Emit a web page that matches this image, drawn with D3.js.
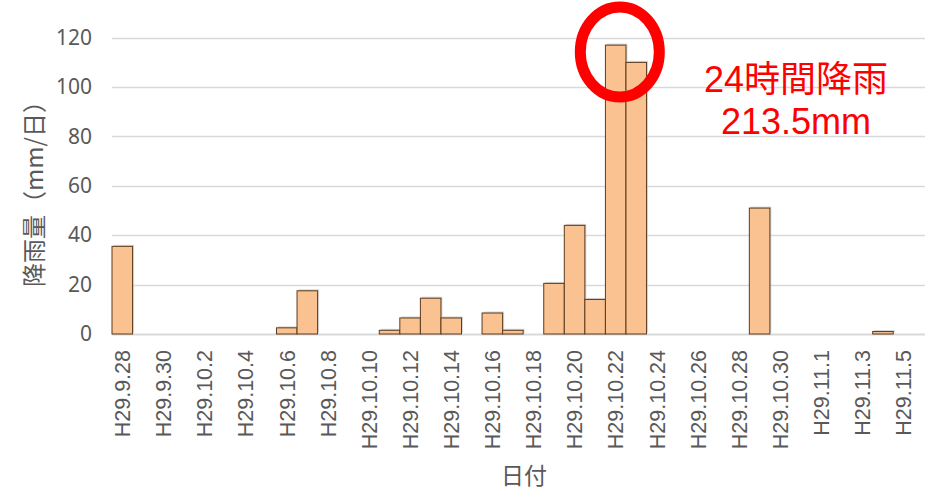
<!DOCTYPE html>
<html>
<head>
<meta charset="utf-8">
<script src="https://cdn.jsdelivr.net/npm/d3@7"></script>
<style>
  body { margin: 0; background: #fff; }
  svg { display: block; }
  .axis path, .axis line { display: none; }
  .xlab text { font-family: "Liberation Sans", Arial, sans-serif; font-size: 21.5px; fill: #595959; }
  .ylab text { font-family: "Noto Sans", "Liberation Sans", sans-serif; font-size: 21px; fill: #595959; }
  .axis-title { font-family: "Noto Sans CJK JP", sans-serif; font-size: 23px; fill: #595959; }
  .note { font-family: "Liberation Sans", "Noto Sans CJK JP", sans-serif; font-size: 36px; fill: #ff0000; }
</style>
</head>
<body>
<svg id="chart" width="925" height="491"></svg>
<script>
// chart data
const dates = ["H29.9.28", "H29.9.29", "H29.9.30", "H29.10.1", "H29.10.2", "H29.10.3", "H29.10.4",
               "H29.10.5", "H29.10.6", "H29.10.7", "H29.10.8", "H29.10.9", "H29.10.10", "H29.10.11",
               "H29.10.12", "H29.10.13", "H29.10.14", "H29.10.15", "H29.10.16", "H29.10.17", "H29.10.18",
               "H29.10.19", "H29.10.20", "H29.10.21", "H29.10.22", "H29.10.23", "H29.10.24", "H29.10.25",
               "H29.10.26", "H29.10.27", "H29.10.28", "H29.10.29", "H29.10.30", "H29.10.31", "H29.11.1",
               "H29.11.2", "H29.11.3", "H29.11.4", "H29.11.5"];
const rain = [35.5, 0, 0, 0, 0, 0, 0,
              0, 2.5, 17.5, 0, 0, 0, 1.5,
              6.5, 14.5, 6.5, 0, 8.5, 1.5, 0,
              20.5, 44, 14, 117, 110, 0, 0,
              0, 0, 0, 51, 0, 0, 0,
              0, 0, 1, 0];
const tickDates = ["H29.9.28", "H29.9.30", "H29.10.2", "H29.10.4", "H29.10.6", "H29.10.8", "H29.10.10",
                   "H29.10.12", "H29.10.14", "H29.10.16", "H29.10.18", "H29.10.20", "H29.10.22",
                   "H29.10.24", "H29.10.26", "H29.10.28", "H29.10.30", "H29.11.1", "H29.11.3", "H29.11.5"];
const yTicks = [0, 20, 40, 60, 80, 100, 120];
const noteLines = ["24時間降雨", "213.5mm"];
const highlightDates = ["H29.10.22", "H29.10.23"];

const plotLeft = 112, plotRight = 913.8, plotTop = 37.7, plotBottom = 334;
const svg = d3.select("#chart");

const x = d3.scaleBand()
            .domain(dates)
            .range([plotLeft, plotRight])
            .padding(0);

const y = d3.scaleLinear()
            .domain([0, 120])
            .range([plotBottom, plotTop]);

// gridlines
svg.append("g")
   .selectAll("line")
   .data(yTicks)
   .join("line")
   .attr("x1", plotLeft)
   .attr("x2", 925)
   .attr("y1", d => Math.round(y(d)) + 0.5)
   .attr("y2", d => Math.round(y(d)) + 0.5)
   .attr("stroke", "#d9d9d9")
   .attr("stroke-width", d => d === 0 ? 2 : 1.5);

const wet = dates.filter((d, i) => rain[i] > 0);
const val = d => rain[dates.indexOf(d)];

// bar shadows
svg.append("g")
   .selectAll("rect")
   .data(wet)
   .join("rect")
   .attr("x", d => x(d) + 1.5)
   .attr("y", d => y(val(d)) - 1.5)
   .attr("width", x.bandwidth())
   .attr("height", d => plotBottom - y(val(d)))
   .attr("fill", "#bdbdbd")
   .attr("opacity", 0.6);

// bars
svg.append("g")
   .selectAll("rect")
   .data(wet)
   .join("rect")
   .attr("x", d => x(d))
   .attr("y", d => y(val(d)))
   .attr("width", x.bandwidth())
   .attr("height", d => plotBottom - y(val(d)))
   .attr("fill", "#f9c290")
   .attr("stroke", "#5c3b1e")
   .attr("stroke-width", 1);

// axes
const bottomAxis = d3.axisBottom(x).tickValues(tickDates).tickSize(0);
svg.append("g")
   .attr("class", "axis xlab")
   .attr("transform", "translate(0," + plotBottom + ")")
   .call(bottomAxis)
   .selectAll("text")
   .attr("transform", "rotate(-90)")
   .attr("text-anchor", "end")
   .attr("x", -16)
   .attr("y", 0)
   .attr("dy", "0.36em");

const leftAxis = d3.axisLeft(y).tickValues(yTicks).tickSize(0).tickPadding(20);
svg.append("g")
   .attr("class", "axis ylab")
   .attr("transform", "translate(" + plotLeft + ",0)")
   .call(leftAxis);

svg.append("text")
   .attr("class", "axis-title")
   .attr("text-anchor", "middle")
   .attr("transform", "translate(34,188) rotate(-90)")
   .attr("dy", "0.36em")
   .style("font-size", "24px")
   .text("降雨量（mm/日）");

svg.append("text")
   .attr("class", "axis-title")
   .attr("text-anchor", "middle")
   .attr("x", 524)
   .attr("y", 484)
   .text("日付");

// highlight circle round the peak
const cx = x(highlightDates[0]) + x.bandwidth() * 0.7;
svg.append("ellipse")
   .attr("cx", cx)
   .attr("cy", 52)
   .attr("rx", 39.5)
   .attr("ry", 45)
   .attr("fill", "none")
   .attr("stroke", "#ff0000")
   .attr("stroke-width", 11);

svg.append("g")
   .selectAll("text")
   .data(noteLines)
   .join("text")
   .attr("class", "note")
   .attr("text-anchor", "middle")
   .attr("x", 796)
   .attr("y", (d, i) => 92 + i * 42)
   .text(d => d);
</script>
</body>
</html>
